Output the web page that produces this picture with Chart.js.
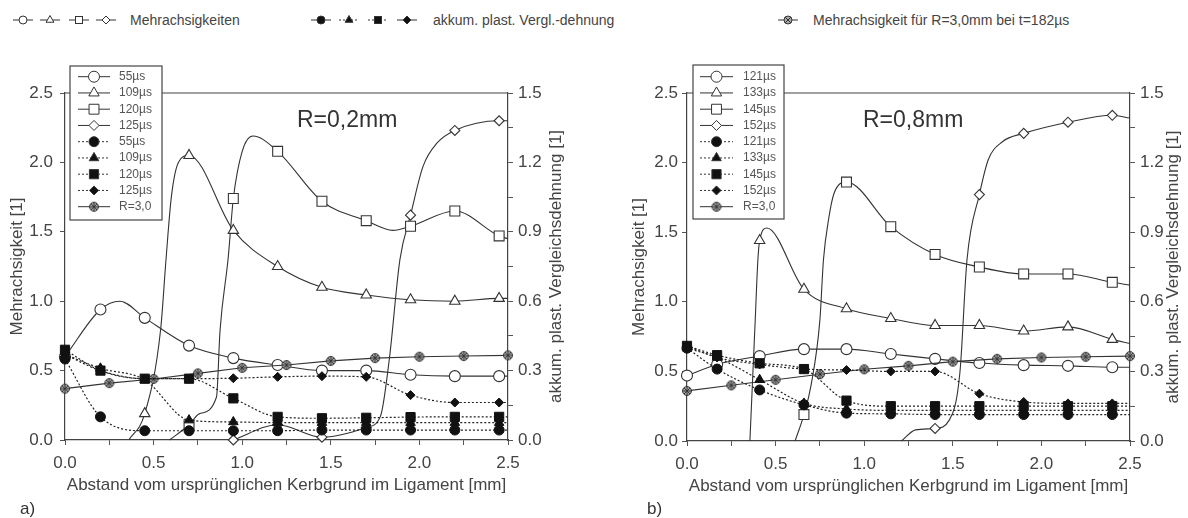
<!DOCTYPE html>
<html>
<head>
<meta charset="utf-8">
<script src="https://cdn.jsdelivr.net/npm/chart.js@4.4.1/dist/chart.umd.min.js"></script>
<style>
  html, body { margin: 0; padding: 0; background: #fff; }
  #wrap { position: relative; width: 1188px; height: 518px; overflow: hidden; }
  #wrap canvas { position: absolute; top: 0; }
  #cA { left: 0; }
  #cB { left: 594px; }
  #top { position: absolute; left: 0; top: 0; }
  #top text { font-family: "Liberation Sans", Arial, sans-serif; font-size: 14px; fill: #444; }
</style>
</head>
<body>
<div id="wrap">
  <svg id="top" width="1188" height="40"></svg>
  <canvas id="cA" width="594" height="518"></canvas>
  <canvas id="cB" width="594" height="518"></canvas>
</div>
<script>
// ---- Daten Teil a) R=0,2mm ----
const timesA = ['55µs', '109µs', '120µs', '125µs'];
const mxA = [0, 0.2, 0.45, 0.7, 0.95, 1.2, 1.45, 1.7, 1.95, 2.2, 2.45];   // Messpunkte mit Symbol
const xR3 = [0, 0.25, 0.5, 0.75, 1, 1.25, 1.5, 1.75, 2, 2.25, 2.5];

// Mehrachsigkeit (linke Achse)
const a55x  = [0, 0.2, 0.31, 0.45, 0.7, 0.95, 1.2, 1.45, 1.7, 1.95, 2.2, 2.45, 2.5];
const a55y  = [0.60, 0.94, 1.00, 0.88, 0.68, 0.59, 0.54, 0.50, 0.50, 0.47, 0.46, 0.46, 0.46];
const a109x = [0.36, 0.45, 0.54, 0.57, 0.6, 0.64, 0.7, 0.95, 1.2, 1.45, 1.7, 1.95, 2.2, 2.45, 2.5];
const a109y = [0, 0.19, 0.80, 1.30, 1.75, 2.00, 2.05, 1.51, 1.25, 1.10, 1.045, 1.01, 1.00, 1.02, 1.02];
const a120x = [0.59, 0.7, 0.76, 0.855, 0.875, 0.92, 0.95, 1.0, 1.06, 1.2, 1.45, 1.7, 1.85, 1.95, 2.2, 2.45, 2.5];
const a120y = [0, 0.11, 0.19, 0.31, 0.79, 1.30, 1.74, 2.08, 2.19, 2.08, 1.72, 1.58, 1.51, 1.54, 1.65, 1.47, 1.45];
const a125x = [0.95, 1.2, 1.45, 1.7, 1.78, 1.83, 1.89, 1.95, 2.02, 2.1, 2.2, 2.45, 2.5];
const a125y = [0, 0.11, 0.02, 0.09, 0.17, 0.58, 1.30, 1.62, 1.97, 2.14, 2.23, 2.30, 2.30];
const aR3y  = [0.37, 0.41, 0.44, 0.48, 0.52, 0.54, 0.57, 0.59, 0.60, 0.605, 0.61];

// akkum. plast. Vergleichsdehnung (rechte Achse)
const xfA   = [0, 0.2, 0.45, 0.7, 0.95, 1.2, 1.45, 1.7, 1.95, 2.2, 2.45, 2.5];
const fa55  = [0.35, 0.10, 0.04, 0.04, 0.04, 0.04, 0.043, 0.043, 0.043, 0.043, 0.043, 0.043];
const fa109 = [0.37, 0.31, 0.26, 0.086, 0.078, 0.075, 0.075, 0.075, 0.075, 0.075, 0.075, 0.075];
const fa120 = [0.39, 0.30, 0.265, 0.265, 0.18, 0.10, 0.094, 0.096, 0.099, 0.10, 0.10, 0.10];
const fa125 = [0.37, 0.30, 0.265, 0.265, 0.267, 0.273, 0.276, 0.273, 0.194, 0.162, 0.162, 0.162];

// ---- Daten Teil b) R=0,8mm ----
const timesB = ['121µs', '133µs', '145µs', '152µs'];
const mxB = [0, 0.17, 0.41, 0.66, 0.9, 1.15, 1.4, 1.65, 1.9, 2.15, 2.4];

const b121x = [0, 0.17, 0.41, 0.66, 0.9, 1.15, 1.4, 1.65, 1.9, 2.15, 2.4, 2.5];
const b121y = [0.47, 0.55, 0.61, 0.66, 0.66, 0.625, 0.59, 0.56, 0.545, 0.54, 0.53, 0.53];
const b133x = [0.355, 0.385, 0.40, 0.41, 0.45, 0.66, 0.9, 1.15, 1.4, 1.65, 1.9, 2.15, 2.4, 2.5];
const b133y = [0, 0.87, 1.30, 1.44, 1.53, 1.09, 0.95, 0.88, 0.83, 0.83, 0.79, 0.82, 0.73, 0.70];
const b145x = [0.61, 0.66, 0.7, 0.75, 0.77, 0.8, 0.83, 0.9, 1.15, 1.4, 1.65, 1.9, 2.15, 2.4, 2.5];
const b145y = [0, 0.19, 0.40, 0.87, 1.30, 1.60, 1.78, 1.86, 1.54, 1.34, 1.25, 1.20, 1.20, 1.14, 1.12];
const b152x = [1.21, 1.29, 1.4, 1.48, 1.54, 1.58, 1.65, 1.7, 1.78, 1.9, 2.15, 2.4, 2.5];
const b152y = [0, 0.08, 0.09, 0.15, 0.49, 1.30, 1.77, 2.02, 2.15, 2.21, 2.29, 2.34, 2.32];
const bR3y  = [0.36, 0.40, 0.44, 0.48, 0.515, 0.54, 0.57, 0.59, 0.60, 0.605, 0.61];

const xfB   = [0, 0.17, 0.41, 0.66, 0.9, 1.15, 1.4, 1.65, 1.9, 2.15, 2.4, 2.5];
const gb121 = [0.40, 0.31, 0.22, 0.156, 0.12, 0.117, 0.114, 0.114, 0.114, 0.114, 0.114, 0.114];
const gb133 = [0.40, 0.36, 0.264, 0.162, 0.138, 0.132, 0.132, 0.132, 0.132, 0.132, 0.132, 0.132];
const gb145 = [0.41, 0.37, 0.335, 0.31, 0.174, 0.15, 0.15, 0.15, 0.15, 0.15, 0.15, 0.15];
const gb152 = [0.41, 0.36, 0.33, 0.31, 0.306, 0.30, 0.30, 0.204, 0.168, 0.162, 0.162, 0.162];

const xTitle = 'Abstand vom ursprünglichen Kerbgrund im Ligament [mm]';
const yTitle = 'Mehrachsigkeit [1]';
const y1Title = 'akkum. plast. Vergleichsdehnung [1]';

const FONT = '"Liberation Sans", Arial, sans-serif';
const INK = '#333';
Chart.defaults.font.family = FONT;
Chart.defaults.color = '#444';

// Symbol fuer R=3,0
const STAR = (() => {
  const c = document.createElement('canvas');
  c.width = 12; c.height = 12;
  const g = c.getContext('2d');
  g.fillStyle = '#aaa'; g.strokeStyle = INK; g.lineWidth = 1;
  g.beginPath(); g.arc(6, 6, 4.5, 0, Math.PI * 2); g.fill(); g.stroke();
  g.beginPath();
  g.moveTo(3, 3); g.lineTo(9, 9); g.moveTo(9, 3); g.lineTo(3, 9);
  g.moveTo(6, 1.5); g.lineTo(6, 10.5); g.moveTo(1.5, 6); g.lineTo(10.5, 6);
  g.stroke();
  return c;
})();

const pts = (xs, ys) => xs.map((x, i) => ({ x: x, y: ys[i] }));
const chartStyle = { circle: 'circle', triangle: 'triangle', rect: 'rect', diamond: 'rectRot' };
const openR = { circle: 5.5, triangle: 6, rect: 7, diamond: 5 };
const fillR = { circle: 5, triangle: 5.5, rect: 6.5, diamond: 4.5 };

function openSet(label, xs, ys, marks, style) {
  return {
    label: label, data: pts(xs, ys), yAxisID: 'y',
    borderColor: INK, borderWidth: 1.1, cubicInterpolationMode: 'monotone',
    pointStyle: chartStyle[style], pointBackgroundColor: '#fff',
    pointBorderColor: INK, pointBorderWidth: 1.1,
    pointRadius: c => (c.raw && marks.includes(c.raw.x)) ? openR[style] : 0,
    clip: 8
  };
}
function fillSet(label, xs, ys, marks, style) {
  return {
    label: label, data: pts(xs, ys), yAxisID: 'y1',
    borderColor: '#222', borderWidth: 1.2, borderDash: [2, 2], cubicInterpolationMode: 'monotone',
    pointStyle: chartStyle[style], pointBackgroundColor: '#111',
    pointBorderColor: '#111', pointBorderWidth: 1,
    pointRadius: c => (c.raw && marks.includes(c.raw.x)) ? fillR[style] : 0,
    clip: 8
  };
}
function starSet(ys) {
  return {
    label: 'R=3,0', data: pts(xR3, ys), yAxisID: 'y',
    borderColor: INK, borderWidth: 1.1, pointStyle: STAR, pointRadius: 5, clip: 8
  };
}

function drawMark(g, style, x, y, r, filled) {
  if (style === 'star') { g.drawImage(STAR, x - 6, y - 6); return; }
  g.save();
  g.lineWidth = 1; g.strokeStyle = INK; g.fillStyle = filled ? '#111' : '#fff';
  g.beginPath();
  if (style === 'circle') g.arc(x, y, r, 0, Math.PI * 2);
  else if (style === 'triangle') { g.moveTo(x, y - r); g.lineTo(x + r * 0.866, y + r * 0.5); g.lineTo(x - r * 0.866, y + r * 0.5); g.closePath(); }
  else if (style === 'rect') { const s = r * 0.707; g.rect(x - s, y - s, 2 * s, 2 * s); }
  else { g.moveTo(x, y - r); g.lineTo(x + r, y); g.lineTo(x, y + r); g.lineTo(x - r, y); g.closePath(); }
  g.fill(); g.stroke();
  g.restore();
}

const styles = ['circle', 'triangle', 'rect', 'diamond'];

// Rahmen, Legendenkasten, Beschriftungen
const deco = {
  id: 'deco',
  beforeDatasetsDraw(chart, args, o) {
    const g = chart.ctx, a = chart.chartArea;
    g.save();
    g.strokeStyle = '#444'; g.lineWidth = 1.2;
    g.beginPath(); g.moveTo(a.left, a.top); g.lineTo(a.right, a.top); g.stroke();
    g.restore();
  },
  afterDraw(chart, args, o) {
    const g = chart.ctx, a = chart.chartArea;
    g.save();
    // Legendenkasten
    const b = o.box;
    g.fillStyle = '#fff'; g.strokeStyle = '#444'; g.lineWidth = 1.2;
    g.fillRect(b.x, b.y, b.w, b.h); g.strokeRect(b.x, b.y, b.w, b.h);
    const items = [];
    o.times.forEach((t, i) => items.push([t, styles[i], false]));
    o.times.forEach((t, i) => items.push([t, styles[i], true]));
    items.push(['R=3,0', 'star', false]);
    g.font = '12px ' + FONT; g.textBaseline = 'middle'; g.textAlign = 'left';
    items.forEach((it, i) => {
      const y = b.y0 + i * 16.25;
      g.strokeStyle = INK; g.lineWidth = 1;
      g.setLineDash(it[2] ? [2, 2] : []);
      g.beginPath(); g.moveTo(b.lx0, y); g.lineTo(b.lx1, y); g.stroke();
      g.setLineDash([]);
      const r = it[2] ? fillR[it[1]] : (openR[it[1]] || 6);
      drawMark(g, it[1], (b.lx0 + b.lx1) / 2, y, r, it[2]);
      g.fillStyle = '#555';
      g.fillText(it[0], b.tx, y);
    });
    // R-Beschriftung
    g.fillStyle = '#333'; g.font = '23px ' + FONT; g.textBaseline = 'alphabetic';
    g.fillText(o.rLabel, o.rx, 127);
    // a) / b)
    g.font = '17px ' + FONT;
    g.fillText(o.panel, o.px, 514);
    // rechte Achsenbeschriftung (von unten nach oben)
    g.font = '17px ' + FONT; g.fillStyle = '#444';
    g.translate(o.y1x, (a.top + a.bottom) / 2);
    g.rotate(-Math.PI / 2);
    g.textAlign = 'center'; g.textBaseline = 'middle';
    g.fillText(y1Title, 0, 0);
    g.restore();
  }
};

function buildScales(c) {
  const border = { color: '#444', width: 1.2 };
  return {
    x: {
      type: 'linear', min: 0, max: 2.5,
      afterFit: s => { s.height = c.hX; },
      ticks: { stepSize: 0.25, autoSkip: false, maxRotation: 0, padding: 8, font: { size: 17 }, color: '#444',
        callback: v => (Math.round(v * 4) % 2 === 0 ? v.toFixed(1) : '') },
      grid: { drawOnChartArea: false, tickLength: 5, color: '#555' },
      border: border,
      title: { display: true, text: xTitle, font: { size: 17 }, color: '#444', padding: { top: 0, bottom: c.xTitlePad } }
    },
    y: {
      type: 'linear', position: 'left', min: 0, max: 2.5,
      afterFit: s => { s.width = c.wY; },
      ticks: { stepSize: 0.5, padding: c.yPad, font: { size: 17 }, color: '#444', callback: v => v.toFixed(1) },
      grid: { drawOnChartArea: false, tickLength: 5, color: '#555' },
      border: border,
      title: { display: true, text: yTitle, font: { size: 17 }, color: '#444', padding: { top: c.yTitlePad, bottom: 0 } }
    },
    y1: {
      type: 'linear', position: 'right', min: 0, max: 1.5,
      afterFit: s => { s.width = c.wY1; },
      ticks: { stepSize: 0.15, autoSkip: false, padding: 5, font: { size: 17 }, color: '#444',
        callback: v => (Math.round(v / 0.15) % 2 === 0 ? v.toFixed(1) : '') },
      grid: { drawOnChartArea: false, tickLength: 5, color: '#555' },
      border: border
    }
  };
}

// GRAFIK a)
new Chart(document.getElementById('cA'), {
  type: 'line',
  data: {
    datasets: [
      fillSet(timesA[0], xfA, fa55, mxA, 'circle'),
      fillSet(timesA[1], xfA, fa109, mxA, 'triangle'),
      fillSet(timesA[2], xfA, fa120, mxA, 'rect'),
      fillSet(timesA[3], xfA, fa125, mxA, 'diamond'),
      starSet(aR3y),
      openSet(timesA[0], a55x, a55y, mxA, 'circle'),
      openSet(timesA[1], a109x, a109y, mxA, 'triangle'),
      openSet(timesA[2], a120x, a120y, mxA, 'rect'),
      openSet(timesA[3], a125x, a125y, mxA, 'diamond')
    ]
  },
  options: {
    responsive: false, animation: false, events: [],
    layout: { padding: { top: 93, left: 0, right: 0, bottom: 0 } },
    scales: buildScales({ hX: 78, wY: 65, wY1: 86, yPad: 7, yTitlePad: 7, xTitlePad: 22 }),
    plugins: {
      legend: { display: false }, tooltip: { enabled: false },
      deco: { times: timesA, rLabel: 'R=0,2mm', rx: 297, panel: 'a)', px: 20, y1x: 556,
        box: { x: 70, y: 66, w: 92, h: 154, y0: 76.7, lx0: 78, lx1: 110, tx: 119 } }
    }
  },
  plugins: [deco]
});

// GRAFIK b)
new Chart(document.getElementById('cB'), {
  type: 'line',
  data: {
    datasets: [
      fillSet(timesB[0], xfB, gb121, mxB, 'circle'),
      fillSet(timesB[1], xfB, gb133, mxB, 'triangle'),
      fillSet(timesB[2], xfB, gb145, mxB, 'rect'),
      fillSet(timesB[3], xfB, gb152, mxB, 'diamond'),
      starSet(bR3y),
      openSet(timesB[0], b121x, b121y, mxB, 'circle'),
      openSet(timesB[1], b133x, b133y, mxB, 'triangle'),
      openSet(timesB[2], b145x, b145y, mxB, 'rect'),
      openSet(timesB[3], b152x, b152y, mxB, 'diamond')
    ]
  },
  options: {
    responsive: false, animation: false, events: [],
    layout: { padding: { top: 93, left: 0, right: 0, bottom: 0 } },
    scales: buildScales({ hX: 77, wY: 93, wY1: 58, yPad: 4, yTitlePad: 35, xTitlePad: 21 }),
    plugins: {
      legend: { display: false }, tooltip: { enabled: false },
      deco: { times: timesB, rLabel: 'R=0,8mm', rx: 269, panel: 'b)', px: 53, y1x: 579,
        box: { x: 99, y: 65, w: 91, h: 154, y0: 76.7, lx0: 106, lx1: 139, tx: 149 } }
    }
  },
  plugins: [deco]
});

// Legende oben
(function () {
  const svg = document.getElementById('top');
  const NS = 'http://www.w3.org/2000/svg';
  const el = (n, at) => { const e = document.createElementNS(NS, n); for (const k in at) e.setAttribute(k, at[k]); svg.appendChild(e); return e; };
  const yy = 20;
  function sym(cx, style, filled, dashed) {
    el('line', { x1: cx - 10, y1: yy, x2: cx + 10, y2: yy, stroke: INK, 'stroke-width': 1, 'stroke-dasharray': dashed ? '2,2' : 'none' });
    const f = filled ? '#111' : '#fff', r = 4.5;
    if (style === 'circle') el('circle', { cx: cx, cy: yy, r: 4, fill: f, stroke: INK });
    else if (style === 'triangle') el('polygon', { points: `${cx},${yy - r} ${cx + r * 0.87},${yy + r * 0.5} ${cx - r * 0.87},${yy + r * 0.5}`, fill: f, stroke: INK });
    else if (style === 'rect') el('rect', { x: cx - 3.5, y: yy - 3.5, width: 7, height: 7, fill: f, stroke: INK });
    else if (style === 'diamond') el('polygon', { points: `${cx},${yy - 4} ${cx + 4},${yy} ${cx},${yy + 4} ${cx - 4},${yy}`, fill: f, stroke: INK });
    else {
      el('circle', { cx: cx, cy: yy, r: 4, fill: '#aaa', stroke: INK });
      el('path', { d: `M${cx - 3},${yy - 3}L${cx + 3},${yy + 3}M${cx + 3},${yy - 3}L${cx - 3},${yy + 3}`, stroke: INK });
    }
  }
  [23, 50, 79, 106].forEach((cx, i) => sym(cx, styles[i], false, false));
  el('text', { x: 130, y: yy + 5 }).textContent = 'Mehrachsigkeiten';
  [321, 349, 378, 407].forEach((cx, i) => sym(cx, styles[i], true, i === 1 || i === 2));
  el('text', { x: 433, y: yy + 5 }).textContent = 'akkum. plast. Vergl.-dehnung';
  sym(788, 'star', false, false);
  el('text', { x: 813, y: yy + 5 }).textContent = 'Mehrachsigkeit für R=3,0mm bei t=182µs';
})();
</script>
</body>
</html>
